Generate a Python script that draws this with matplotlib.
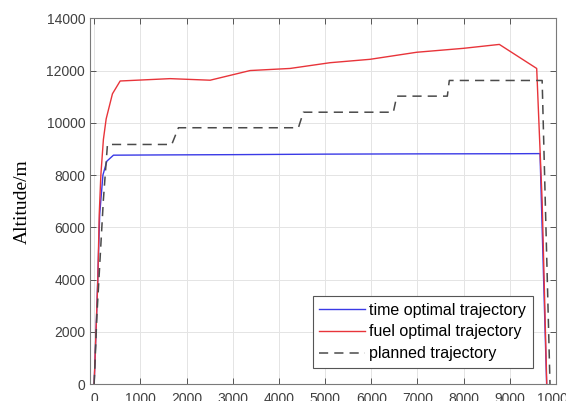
import matplotlib
matplotlib.use("Agg")
import matplotlib.pyplot as plt

# Range (m) vs altitude (m) for the three trajectories
time_x = [0, 60, 120, 190, 275, 418, 1500, 3000, 5000, 7000, 9000, 9654, 9797]
time_y = [0, 3000, 6500, 8000, 8530, 8760, 8770, 8780, 8800, 8810, 8815, 8820, 0]

fuel_x = [0, 40, 80, 110, 145, 200, 260, 396, 563, 1645, 2511, 3377, 4242,
          5108, 5974, 6984, 7994, 8773, 9582, 9700, 9800]
fuel_y = [0, 2000, 4000, 6500, 8000, 9360, 10150, 11110, 11600, 11690, 11630,
          12000, 12080, 12300, 12430, 12700, 12850, 13000, 12080, 7000, 0]

plan_x = [0, 60, 200, 288, 1680, 1825, 4422, 4530, 6478, 6552, 7647, 7690,
          9700, 9870]
plan_y = [0, 2650, 7060, 9170, 9170, 9810, 9810, 10405, 10405, 11020, 11020,
          11620, 11620, 0]

x_ticks = list(range(0, 10001, 1000))
y_ticks = list(range(0, 14001, 2000))

fig = plt.figure(figsize=(5.66, 4.01), dpi=100)
ax = fig.add_axes([90 / 566, 17 / 401, (556 - 90) / 566, (384 - 18.3) / 401])

ax.plot(time_x, time_y, color="#3a3ae6", lw=1.0, label="time optimal trajectory")
ax.plot(fuel_x, fuel_y, color="#e8343a", lw=1.0, label="fuel optimal trajectory")
ax.plot(plan_x, plan_y, color="#4a4a4a", lw=1.1, dashes=(6, 4),
        label="planned trajectory")

ax.set_xlim(-90, 10000)
ax.set_ylim(0, 14000)
ax.set_xticks(x_ticks)
ax.set_yticks(y_ticks)

ax.grid(True, color="#e4e4e4", lw=0.7)
ax.set_axisbelow(True)
for s in ax.spines.values():
    s.set_color("#7a7a7a")
    s.set_linewidth(0.8)
ax.tick_params(direction="in", length=4, width=0.7, color="#555555",
               top=True, right=True, labelsize=10, labelcolor="#404040")
ax.tick_params(axis="x", pad=6)
for lab in ax.get_xticklabels() + ax.get_yticklabels():
    lab.set_fontfamily("Liberation Sans")

ax.set_ylabel("Altitude/m", fontfamily="Liberation Serif", fontsize=14,
              labelpad=11)

leg = ax.legend(loc="lower right", bbox_to_anchor=(0.95, 0.045),
                prop={"family": "Liberation Sans", "size": 11.5},
                handlelength=2.9, handletextpad=0.25, borderpad=0.4,
                labelspacing=0.42, fancybox=False, framealpha=1,
                edgecolor="#555555", borderaxespad=0)
leg.get_frame().set_linewidth(0.8)

fig.savefig("out.png", dpi=100)
